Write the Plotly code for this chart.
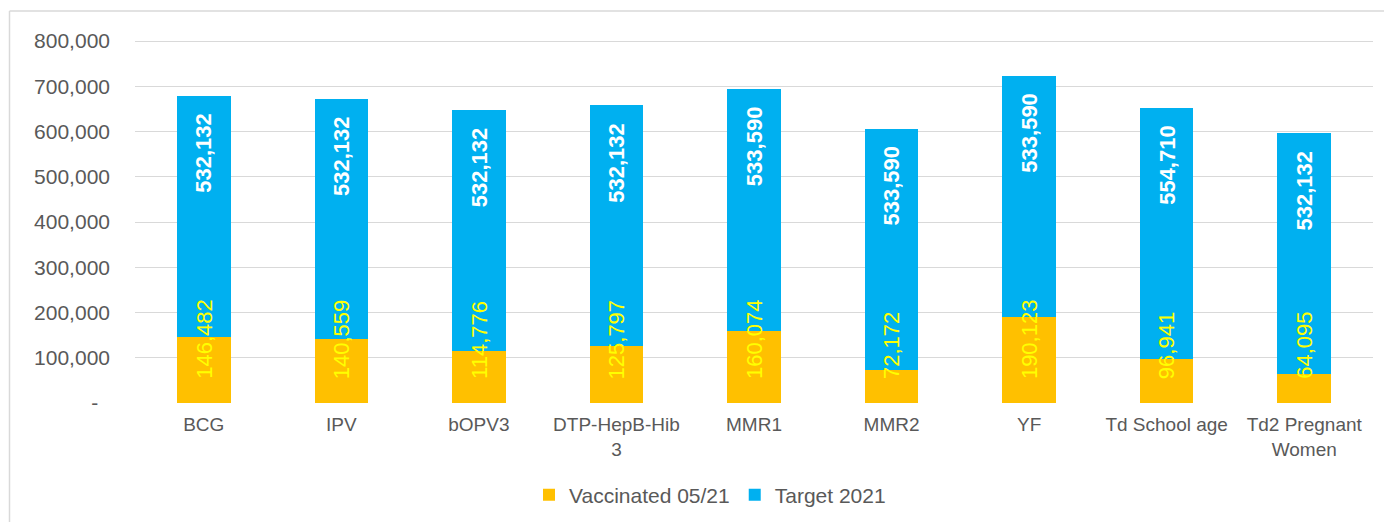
import plotly.graph_objects as go

categories = ["BCG", "IPV", "bOPV3", "DTP-HepB-Hib<br>3", "MMR1", "MMR2", "YF",
              "Td School age", "Td2 Pregnant<br>Women"]
vaccinated = [146482, 140559, 114776, 125797, 160074, 72172, 190123, 96941, 64095]
target = [532132, 532132, 532132, 532132, 533590, 533590, 533590, 554710, 532132]
y_ticks = [0, 100000, 200000, 300000, 400000, 500000, 600000, 700000, 800000]
y_ticktext = ["-\u00a0\u00a0"] + [f"{v:,}" for v in y_ticks[1:]]

ORANGE = "#FFC000"
BLUE = "#00B0F0"
GRAY = "#595959"
GRID = "#D9D9D9"
FONT = "Liberation Sans, Arial, sans-serif"

fig = go.Figure()
fig.add_trace(go.Bar(name="Vaccinated 05/21", x=categories, y=vaccinated,
                     marker=dict(color=ORANGE, line=dict(width=0))))
fig.add_trace(go.Bar(name="Target 2021", x=categories, y=target,
                     marker=dict(color=BLUE, line=dict(width=0))))

annotations = []
for c, v, t in zip(categories, vaccinated, target):
    annotations.append(dict(x=c, y=0, xref="x", yref="y", text=f"{v:,}",
                            textangle=-90, showarrow=False, yanchor="bottom",
                            xanchor="center", yshift=22,
                            font=dict(family=FONT, size=22, color="#FFFF00")))
    annotations.append(dict(x=c, y=v + t, xref="x", yref="y", text=f"<b>{t:,}</b>",
                            textangle=-90, showarrow=False, yanchor="top",
                            xanchor="center", yshift=-15,
                            font=dict(family=FONT, size=22, color="#FFFFFF")))

# page offset of 8px (browser body margin) is compensated in the margins
W, H = 1392, 522
OFF = 8
L, R, T, B = 135 - OFF, 1392 - (1373 - OFF), 32 - OFF, 522 - (403 - OFF)
pw, ph = W - L - R, H - T - B

def px_x(p):
    return (p - OFF - L) / pw

def px_y(p):
    return (H - B - (p - OFF)) / ph

shapes = [
    dict(type="line", xref="paper", yref="paper", x0=px_x(9.5), x1=px_x(W + 20),
         y0=px_y(11), y1=px_y(11), line=dict(color=GRID, width=1.5)),
    dict(type="line", xref="paper", yref="paper", x0=px_x(9.5), x1=px_x(9.5),
         y0=px_y(11), y1=px_y(H + 20), line=dict(color=GRID, width=1.5)),
]

fig.update_layout(
    barmode="stack",
    bargap=0.61,
    width=W, height=H,
    margin=dict(l=L, r=R, t=T, b=B, autoexpand=False),
    paper_bgcolor="white",
    plot_bgcolor="white",
    font=dict(family=FONT, color=GRAY),
    annotations=annotations,
    shapes=shapes,
    legend=dict(orientation="h", x=px_x(710), xanchor="center", y=px_y(495),
                yanchor="middle", font=dict(size=21, color=GRAY),
                traceorder="normal", itemwidth=30),
    xaxis=dict(showgrid=False, showline=False, ticks="",
               tickfont=dict(size=19, color=GRAY), ticklabelstandoff=8),
    yaxis=dict(range=[0, 820000], tickvals=y_ticks, ticktext=y_ticktext,
               showgrid=True, gridcolor=GRID, gridwidth=1.3, zeroline=False,
               showline=False, ticks="", tickfont=dict(size=21, color=GRAY),
               ticklabelstandoff=24),
)

fig.write_html("out.html")
